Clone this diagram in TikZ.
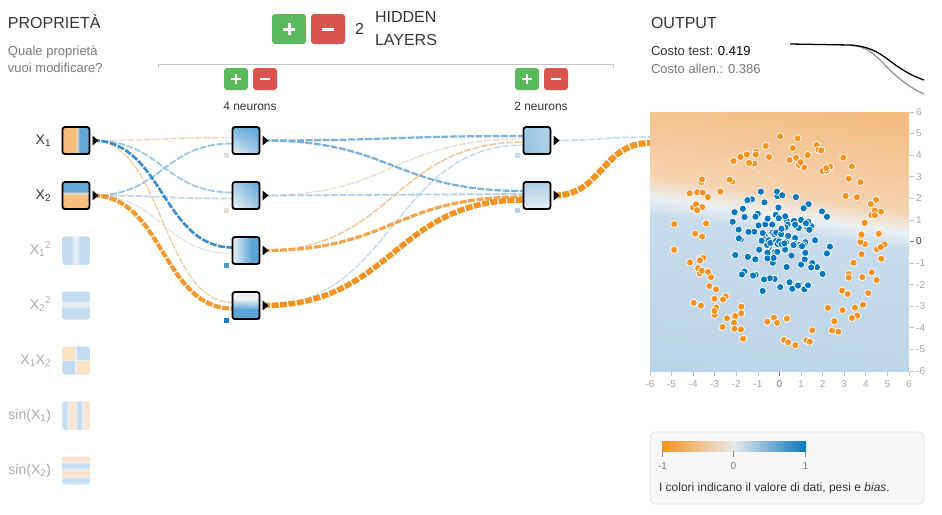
\documentclass[tikz,border=0pt]{standalone}
\usepackage{fontspec}
\setmainfont{Liberation Sans}
\usetikzlibrary{calc,shadings}
\definecolor{orng}{HTML}{F59322}
\definecolor{blu}{HTML}{0877BD}
\definecolor{tdark}{HTML}{353535}
\definecolor{tgray}{HTML}{7A7A7A}
\definecolor{tfade}{HTML}{AAAAAA}
\definecolor{axgray}{HTML}{A8A8A8}
\definecolor{btngreen}{HTML}{5CB85C}
\definecolor{btnred}{HTML}{D9534F}
\definecolor{xor}{HTML}{F9BD7E}
\definecolor{xbl}{HTML}{64A8D9}
\definecolor{xmid}{HTML}{E3DCD2}
\definecolor{nbl}{HTML}{5CA5D7}
\definecolor{nwh}{HTML}{EDF1F3}
\definecolor{fb}{HTML}{C3DCEF}
\definecolor{fo}{HTML}{FDE3C6}
\definecolor{fw}{HTML}{E9EFF2}
\definecolor{hmor}{HTML}{F4BA7A}
\definecolor{hmor2}{HTML}{F4D4B2}
\definecolor{hmwh}{HTML}{EEF1F2}
\definecolor{hmbl}{HTML}{C7DCEC}
\definecolor{hmbl2}{HTML}{BAD4E7}
\definecolor{c1}{HTML}{E9D9C4}
\definecolor{c2}{HTML}{9CC4E2}
\definecolor{c3}{HTML}{A6CAE4}
\definecolor{c4}{HTML}{C2D6E5}
\definecolor{c5}{HTML}{3B8CCA}
\definecolor{c6}{HTML}{E5E3DF}
\definecolor{c7}{HTML}{EFD0AC}
\definecolor{c8}{HTML}{F59830}
\definecolor{d1}{HTML}{7EB2D9}
\definecolor{d2}{HTML}{E9DDCF}
\definecolor{d3}{HTML}{F1C699}
\definecolor{d4}{HTML}{BED5E7}
\definecolor{d5}{HTML}{7BB0D8}
\definecolor{d6}{HTML}{B0CEE5}
\definecolor{d7}{HTML}{F5A551}
\definecolor{d8}{HTML}{F59322}
\definecolor{e1}{HTML}{C8D9E6}
\definecolor{e2}{HTML}{F59322}
\definecolor{legbg}{HTML}{F7F7F7}
\definecolor{legbd}{HTML}{E2E2E2}
\definecolor{zeroc}{HTML}{E8EAEB}
\tikzset{
 f16/.style={font=\fontsize{16}{19}\selectfont},
 f14/.style={font=\fontsize{14}{17}\selectfont},
 f13/.style={font=\fontsize{13}{16}\selectfont},
 f12/.style={font=\fontsize{12}{15}\selectfont},
 f10/.style={font=\fontsize{10}{12}\selectfont},
 txt/.style={inner sep=0pt, outer sep=0pt},
 nbox/.style={draw=black, line width=1.8pt, rounded corners=2.5pt, minimum size=27pt, inner sep=0pt},
 link/.style={to path={let \p1=(\tikztostart), \p2=(\tikztotarget), \p3=($(\tikztostart)!0.5!(\tikztotarget)$) in .. controls (\x3,\y1) and (\x3,\y2) .. (\tikztotarget)}, dash pattern=on 7pt off 1.5pt},
 btn/.style={rounded corners=3pt, inner sep=0pt},
 ico/.style={draw=white, line width=3pt},
 icos/.style={draw=white, line width=2.5pt},
 axl/.style={inner sep=0pt, f10, text=axgray},
 axtick/.style={draw=axgray!70, line width=0.8pt},
}
\begin{document}
\begin{tikzpicture}[x=1pt,y=-1pt]
\useasboundingbox (0,0) rectangle (942,514);
\fill[white] (0,0) rectangle (942,514);

% ---------- titles ----------
\node[txt, f16, text=tdark, anchor=base west] (tprop) at (8,28) {PROPRIETÀ};
\node[txt, f13, text=tgray, anchor=base west] (tq1) at (8,55) {Quale proprietà};
\node[txt, f13, text=tgray, anchor=base west] (tq2) at (8,72) {vuoi modificare?};
\node[txt, f16, text=tdark, anchor=base west] (tnum) at (355,34) {2};
\node[txt, f16, text=tdark, anchor=base west] (thid) at (375,23) {HIDDEN};
\node[txt, f16, text=tdark, anchor=base west] (tlay) at (375,45) {LAYERS};
\node[txt, f16, text=tdark, anchor=base west] (tout) at (651,28) {OUTPUT};
\node[txt, f13, text=tdark, anchor=base west] (tcost) at (651,55) {Costo test: \textcolor{black}{0.419}};
\node[txt, f13, text=tgray, anchor=base west] (tcost2) at (651,73) {Costo allen.: 0.386};
\node[txt, f12, text=tdark, anchor=base] (tn4) at (250,110) {4 neurons};
\node[txt, f12, text=tdark, anchor=base] (tn2) at (541,110) {2 neurons};

% ---------- buttons ----------
\node[btn, fill=btngreen, minimum width=34pt, minimum height=30pt] (addl) at (289,29) {};
\node[btn, fill=btnred, minimum width=34pt, minimum height=30pt] (reml) at (328,29) {};
\draw[ico] ($(addl)+(-6,0)$) -- ($(addl)+(6,0)$);
\draw[ico] ($(addl)+(0,-6)$) -- ($(addl)+(0,6)$);
\draw[ico] ($(reml)+(-6,0)$) -- ($(reml)+(6,0)$);
\foreach \nm/\cx in {a/236, b/527}{
  \node[btn, fill=btngreen, minimum width=24pt, minimum height=22pt] (addn\nm) at (\cx,79) {};
  \node[btn, fill=btnred, minimum width=24pt, minimum height=22pt] (remn\nm) at ({\cx+29},79) {};
  \draw[icos] ($(addn\nm)+(-5,0)$) -- ($(addn\nm)+(5,0)$);
  \draw[icos] ($(addn\nm)+(0,-5)$) -- ($(addn\nm)+(0,5)$);
  \draw[icos] ($(remn\nm)+(-5,0)$) -- ($(remn\nm)+(5,0)$);
}
\draw[gray!45, line width=0.8pt] (158,68) -- (158,64) -- (613,64) -- (613,68);

% ---------- coordinates ----------
\coordinate (x1o) at (93,140.5);
\coordinate (x2o) at (93,195.5);
\foreach \k/\yy in {1/140.5,2/195.5,3/250.5,4/305.5}{
  \coordinate (no\k) at (263,\yy);
  \coordinate (na\k) at (232.5,{\yy-3});
  \coordinate (nb\k) at (232.5,{\yy+3});
}
\foreach \k/\yy in {1/140.5,2/195.5}{
  \coordinate (mo\k) at (554,\yy);
  \coordinate (ma\k) at (523.5,{\yy-4.5});
  \coordinate (mb\k) at (523.5,{\yy-1.5});
  \coordinate (mc\k) at (523.5,{\yy+1.5});
  \coordinate (md\k) at (523.5,{\yy+4.5});
}
\coordinate (op1) at (650,137);
\coordinate (op2) at (650,143);

% ---------- links ----------
\draw[link, c6, line width=1.2pt] (x2o) to (nb3);
\draw[link, c1, line width=1.4pt] (x1o) to (na1);
\draw[link, c7, line width=1.4pt] (x1o) to (na4);
\draw[link, c4, line width=1.8pt] (x2o) to (nb2);
\draw[link, c3, line width=1.8pt] (x1o) to (na2);
\draw[link, c2, line width=1.8pt] (x2o) to (nb1);
\draw[link, c5, line width=2.6pt] (x1o) to (na3);
\draw[link, c8, line width=4.2pt] (x2o) to (nb4);

\draw[link, d4, line width=1.2pt] (no4) to (md1);
\draw[link, d2, line width=1.3pt] (no2) to (mb1);
\draw[link, d3, line width=1.5pt] (no3) to (mc1);
\draw[link, d6, line width=1.8pt] (no2) to (mb2);
\draw[link, d1, line width=2.2pt] (no1) to (ma1);
\draw[link, d5, line width=2.2pt] (no1) to (ma2);
\draw[link, d7, line width=3.2pt] (no3) to (mc2);
\draw[link, d8, line width=5.5pt] (no4) to (md2);

\draw[link, e1, line width=1.6pt] (mo1) to (op1);
\draw[link, e2, line width=6pt] (mo2) to (op2);

% ---------- input nodes ----------
\begin{scope}
  \clip (62.5,127) rectangle (89.5,154);
  \fill[xor] (62,126) rectangle (75,155);
  \shade[left color=xor, right color=xbl, middle color=xmid] (75,126) rectangle (79.5,155);
  \fill[xbl] (79.5,126) rectangle (90,155);
\end{scope}
\node[nbox] (x1) at (76,140.5) {};
\begin{scope}
  \clip (62.5,182) rectangle (89.5,209);
  \fill[xbl] (62,181) rectangle (90,191);
  \shade[top color=xbl, bottom color=xor, middle color=xmid] (62,191) rectangle (90,195.5);
  \fill[xor] (62,195.5) rectangle (90,210);
\end{scope}
\node[nbox] (x2) at (76,195.5) {};

% faded features
\begin{scope}
  \clip[rounded corners=3pt] (62,236.5) rectangle (90,264.5);
  \foreach \k in {0,...,27}{
    \pgfmathsetmacro\xx{-6+12*(\k+0.5)/28}
    \pgfmathtruncatemacro\pp{100*min(1,\xx*\xx/3)}
    \fill[fb!\pp!fw] ({62+\k},236) rectangle ({63.6+\k},265);
  }
\end{scope}
\node[txt, minimum size=28pt] (fx1sq) at (76,250.5) {};
\begin{scope}
  \clip[rounded corners=3pt] (62,291.5) rectangle (90,319.5);
  \foreach \k in {0,...,27}{
    \pgfmathsetmacro\xx{-6+12*(\k+0.5)/28}
    \pgfmathtruncatemacro\pp{100*min(1,\xx*\xx/3)}
    \fill[fb!\pp!fw] (62,{291+\k}) rectangle (90,{292.6+\k});
  }
\end{scope}
\node[txt, minimum size=28pt] (fx2sq) at (76,305.5) {};
\begin{scope}
  \clip[rounded corners=3pt] (62,346.5) rectangle (90,374.5);
  \fill[fo] (62,346) rectangle (76,360.5);
  \fill[fb] (76,346) rectangle (90,360.5);
  \fill[fb] (62,360.5) rectangle (76,375);
  \fill[fo] (76,360.5) rectangle (90,375);
  \fill[fw] (75.4,346) rectangle (76.6,375);
  \fill[fw] (62,359.9) rectangle (90,361.1);
\end{scope}
\node[txt, minimum size=28pt] (fx1x2) at (76,360.5) {};
\begin{scope}
  \clip[rounded corners=3pt] (62,401.5) rectangle (90,429.5);
  \foreach \k in {0,...,27}{
    \pgfmathsetmacro\vv{sin(deg(-6+12*(\k+0.5)/28))}
    \pgfmathtruncatemacro\pp{100*abs(\vv)}
    \ifdim\vv pt>0pt \def\cc{fb}\else\def\cc{fo}\fi
    \fill[\cc!\pp!fw] ({62+\k},401) rectangle ({63.6+\k},430);
  }
\end{scope}
\node[txt, minimum size=28pt] (fsin1) at (76,415.5) {};
\begin{scope}
  \clip[rounded corners=3pt] (62,456.5) rectangle (90,484.5);
  \foreach \k in {0,...,27}{
    \pgfmathsetmacro\vv{sin(deg(6-12*(\k+0.5)/28))}
    \pgfmathtruncatemacro\pp{100*abs(\vv)}
    \ifdim\vv pt>0pt \def\cc{fb}\else\def\cc{fo}\fi
    \fill[\cc!\pp!fw] (62,{456+\k}) rectangle (90,{457.6+\k});
  }
\end{scope}
\node[txt, minimum size=28pt] (fsin2) at (76,470.5) {};

% input labels
\node[txt, f14, text=tdark, anchor=base east] (lx1) at (51,144) {X\textsubscript{1}};
\node[txt, f14, text=tdark, anchor=base east] (lx2) at (51,199) {X\textsubscript{2}};
\node[txt, f14, text=tfade, anchor=base east] (lx1s) at (51,254) {X\textsubscript{1}\textsuperscript{2}};
\node[txt, f14, text=tfade, anchor=base east] (lx2s) at (51,309) {X\textsubscript{2}\textsuperscript{2}};
\node[txt, f14, text=tfade, anchor=base east] (lx12) at (51,364) {X\textsubscript{1}X\textsubscript{2}};
\node[txt, f14, text=tfade, anchor=base east] (lsin1) at (51,419) {sin(X\textsubscript{1})};
\node[txt, f14, text=tfade, anchor=base east] (lsin2) at (51,474) {sin(X\textsubscript{2})};

% ---------- hidden nodes ----------
\shade[upper left=nbl!85!white, upper right=nbl, lower left=nwh, lower right=nbl!60!nwh] (232.5,127) rectangle (259.5,154);
\node[nbox] (n1) at (246,140.5) {};
\shade[upper left=nbl!45!nwh, upper right=nbl, lower left=nwh, lower right=nbl!55!nwh] (232.5,182) rectangle (259.5,209);
\node[nbox] (n2) at (246,195.5) {};
\begin{scope}
  \clip (232.5,237) rectangle (259.5,264);
  \shade[left color=nwh, right color=nbl] (232.5,237) rectangle (252,264);
  \fill[nbl] (252,237) rectangle (260,264);
\end{scope}
\node[nbox] (n3) at (246,250.5) {};
\begin{scope}
  \clip (232.5,292) rectangle (259.5,319);
  \fill[nwh] (232,291) rectangle (260,320);
  \shade[upper left=nwh, upper right=nwh, lower left=nbl, lower right=nbl!85!nwh] (232.5,299) rectangle (259.5,309);
  \fill[nbl] (232.5,309) rectangle (259.5,320);
\end{scope}
\node[nbox] (n4) at (246,305.5) {};

\shade[upper left=nbl!55!nwh, upper right=nbl!40!nwh, lower left=nbl!60!nwh, lower right=nbl!45!nwh] (523.5,127) rectangle (550.5,154);
\node[nbox] (m1) at (537,140.5) {};
\shade[top color=nbl!45!nwh, bottom color=nwh!95!nbl] (523.5,182) rectangle (550.5,209);
\node[nbox] (m2) at (537,195.5) {};

% bias squares
\foreach \bx/\by/\bc in {224/153/E0DFDC, 224/208/E6DCCF, 224/263/4799D0, 224/318/157FC2, 515/153/C7D9E6, 515/208/B9D3E6}{
  \definecolor{biasc}{HTML}{\bc}
  \fill[biasc] (\bx,\by) rectangle ++(5,5);
}

% output arrows of nodes
\foreach \cx/\cy in {76/140.5, 76/195.5, 246/140.5, 246/195.5, 246/250.5, 246/305.5, 537/140.5, 537/195.5}{
  \fill[black] ({\cx+16.5},{\cy-5}) -- ({\cx+22.5},\cy) -- ({\cx+16.5},{\cy+5}) -- cycle;
}

% ---------- output heatmap ----------
\begin{scope}
  \clip (650,112) rectangle (909,371);
  \fill[hmbl] (650,112) rectangle (909,371);
  \foreach \da/\db/\ca/\cb in {-125/-20/hmor/hmor2, -20/0/hmor2/hmwh, 0/18/hmwh/hmbl, 18/175/hmbl/hmbl2}{
    \foreach \k in {0,...,19}{
      \pgfmathsetmacro\ya{\da+(\db-\da)*\k/20}
      \pgfmathsetmacro\yb{\da+(\db-\da)*(\k+1)/20+0.6}
      \pgfmathtruncatemacro\pp{100*(\k+0.5)/20}
      \fill[\cb!\pp!\ca] (650,{197+\ya}) -- (909,{233+\ya}) -- (909,{233+\yb}) -- (650,{197+\yb}) -- cycle;
    }
  }
  \pgfmathsetseed{4242}
  \foreach \i in {1,...,125}{
    \pgfmathsetmacro\rr{2.5*rnd}
    \pgfmathsetmacro\aa{360*rnd}
    \fill[blu, draw=white, line width=0.7pt] ({779.5+21.58*\rr*cos(\aa)},{241.5+21.58*\rr*sin(\aa)}) circle (3.6pt);
    \pgfmathsetmacro\rr{3.5+1.5*rnd}
    \pgfmathsetmacro\aa{360*rnd}
    \fill[orng, draw=white, line width=0.7pt] ({779.5+21.58*\rr*cos(\aa)},{241.5+21.58*\rr*sin(\aa)}) circle (3.6pt);
  }
\end{scope}

% axes
\foreach \v in {-6,...,6}{
  \pgfmathsetmacro\py{241.5-21.58*\v}
  \pgfmathsetmacro\px{779.5+21.58*\v}
  \ifnum\v=0
    \draw[line width=0.8pt, gray] (910,\py) -- (914,\py);
    \draw[line width=0.8pt, gray] (\px,372) -- (\px,376);
    \node[txt, f10, text=tdark, anchor=west] (ry\v) at (916,\py) {\v};
    \node[txt, f10, text=tgray] (rx\v) at (\px,384) {\v};
  \else
    \draw[axtick] (910,\py) -- (914,\py);
    \draw[axtick] (\px,372) -- (\px,376);
    \node[axl, anchor=west] (ry\v) at (916,\py) {\v};
    \node[axl] (rx\v) at (\px,384) {\v};
  \fi
}

% ---------- loss chart ----------
\draw[line width=1.3pt, gray!85] (850,45.3) .. controls (866,46.3) and (872,52) .. (884,64) .. controls (896,77) and (910,88) .. (924,94);
\draw[line width=1.3pt, black] (790,44) -- (850,45) .. controls (866,46) and (876,50) .. (890,61) .. controls (902,70) and (912,76) .. (924,80);

% ---------- legend ----------
\draw[fill=legbg, draw=legbd, line width=0.8pt, rounded corners=6pt] (650,432) rectangle (924,504);
\shade[left color=orng, right color=blu, middle color=zeroc] (662,441) rectangle (806,451);
\foreach \tx/\tl/\nm in {662.5/-1/a, 733.5/0/b, 805.5/1/c}{
  \draw[gray, line width=0.9pt] (\tx,451) -- (\tx,457);
  \node[txt, f10, text=tgray] (lg\nm) at (\tx,466.5) {\tl};
}
\node[txt, f12, text=tdark, anchor=base west] (legtxt) at (659,491) {I colori indicano il valore di dati, pesi e \textit{bias}.};
\end{tikzpicture}
\end{document}
